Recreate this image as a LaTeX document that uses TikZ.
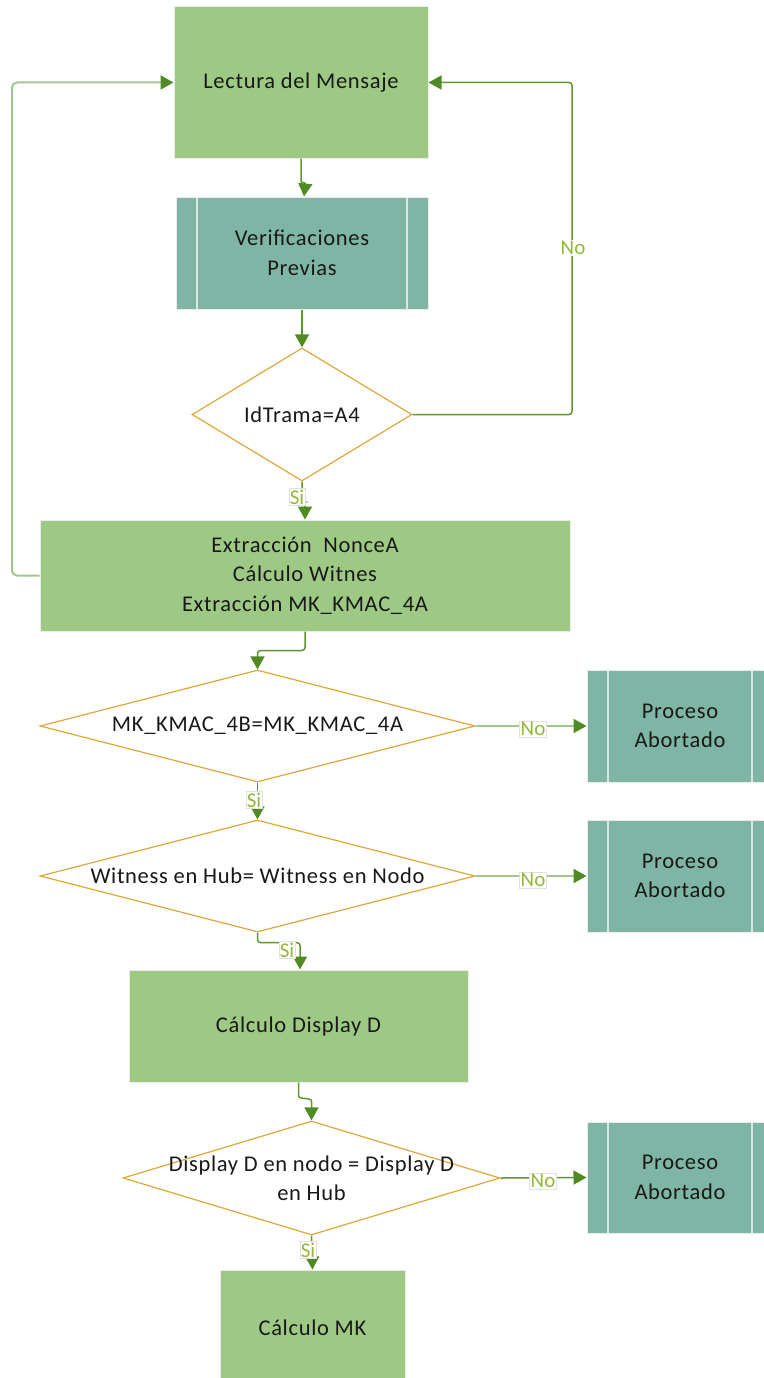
\documentclass[tikz,border=0pt]{standalone}
\usepackage{fontspec}
\setmainfont{Carlito}
\newfontfamily\diagfont{Carlito}[LetterSpace=3]
\usetikzlibrary{shapes.geometric,arrows.meta}

\definecolor{procgreen}{HTML}{9DC985}
\definecolor{subteal}{HTML}{7FB5A5}
\definecolor{decgold}{HTML}{DDA83A}
\definecolor{linkdark}{HTML}{5E9632}
\definecolor{linklight}{HTML}{A3C690}
\definecolor{tipgreen}{HTML}{4F8A23}
\definecolor{labgreen}{HTML}{93B83C}

\tikzset{
  box/.style={rectangle, inner sep=0pt, draw=black!8, line width=1pt,
    font=\diagfont\fontsize{22.5}{29.5}\selectfont, align=center, text=black!90},
  procbox/.style={box, fill=procgreen},
  subbox/.style={box, fill=subteal,
    path picture={
      \draw[white!70!subteal, line width=1.2pt]
        ([xshift=21pt]path picture bounding box.north west) --
        ([xshift=21pt]path picture bounding box.south west)
        ([xshift=-21pt]path picture bounding box.north east) --
        ([xshift=-21pt]path picture bounding box.south east);
    }},
  decision/.style={diamond, draw=decgold, line width=1.2pt, fill=white,
    inner sep=0pt},
  dectext/.style={font=\diagfont\fontsize{22.5}{29}\selectfont, align=center, text=black!90},
  tip/.style={-{Triangle[length=13pt,width=14pt,fill=tipgreen,color=tipgreen]}},
  darklink/.style={draw=linkdark, line width=1.5pt, tip, rounded corners=3pt},
  lightlink/.style={draw=linklight, line width=2pt, tip, rounded corners=5pt},
  answer/.style={font=\fontsize{21}{24}\selectfont, text=labgreen, fill=white,
    draw=black!12, line width=0.5pt, inner sep=1pt}
}

\begin{document}
\begin{tikzpicture}[x=1pt, y=-1pt]
\useasboundingbox (0,0) rectangle (763,1378);

% process steps
\node[procbox, minimum width=254pt, minimum height=151pt] (lect) at (301,82.5) {Lectura del Mensaje};
\node[subbox, minimum width=252pt, minimum height=112pt] (verif) at (302,253) {Verificaciones\\Previas};
\node[decision, minimum width=220pt, minimum height=133pt] (d1) at (302,414.5) {};
\node[dectext] (t1) at (d1) {IdTrama=A4};
\node[procbox, minimum width=530pt, minimum height=111pt] (ext) at (305,575.5)
  {Extracción\ \ NonceA\\Cálculo Witnes\\Extracción MK\_KMAC\_4A};

\node[decision, minimum width=435pt, minimum height=112pt] (d2) at (257.5,726) {};
\node[dectext] (t2) at (d2) {MK\_KMAC\_4B=MK\_KMAC\_4A};
\node[subbox, minimum width=186pt, minimum height=112pt] (ab1) at (680,726) {Proceso\\Abortado};

\node[decision, minimum width=435pt, minimum height=112pt] (d3) at (257.5,876) {};
\node[dectext] (t3) at (d3) {Witness en Hub= Witness en Nodo};
\node[subbox, minimum width=186pt, minimum height=112pt] (ab2) at (680,876) {Proceso\\Abortado};

\node[procbox, minimum width=339pt, minimum height=112pt] (calcD) at (298.5,1026) {Cálculo Display D};

\node[decision, minimum width=377pt, minimum height=114pt] (d4) at (311.5,1178) {};
\node[dectext] (t4) at (d4) {Display D en nodo = Display D\\en Hub};
\node[subbox, minimum width=186pt, minimum height=111pt] (ab3) at (680,1177.5) {Proceso\\Abortado};

\node[procbox, minimum width=185pt, minimum height=116pt] (calcMK) at (312.5,1328) {Cálculo MK};

% main flow
\draw[darklink] (lect.south) -- ++(0,20) .. controls ++(0,4) and ++(0,-4) .. ++(4,8) -- ([xshift=2pt]verif.north);
\draw[darklink] (verif.south) -- (d1.north);
\draw[darklink] (d1.south) -- ++(0,20) -| (ext.north);
\node[answer] (si1) at (297,497) {Si};
\draw[darklink] (ext.south) -- ++(0,19) -| (d2.north);
\draw[darklink] (d2.south) -- (d3.north);
\node[answer] (si2) at (254,800) {Si};
\draw[darklink] (d3.south) -- ++(0,10) -| ([xshift=1.5pt]calcD.north);
\node[answer] (si3) at (287,950) {Si};
\draw[darklink] (calcD.south) -- ++(0,10) .. controls ++(0,8) and ++(0,-8) .. ++(13,12) -| (d4.north);
\draw[darklink] (d4.south) -- (calcMK.north);
\node[answer] (si4) at (308,1250) {Si};

% rejections
\draw[lightlink] (d2.east) -- (ab1.west);
\node[answer] (no1) at (533,729) {No};
\draw[lightlink] (d3.east) -- (ab2.west);
\node[answer] (no2) at (533,880) {No};
\draw[darklink] (d4.east) -- (ab3.west);
\node[answer] (no3) at (543,1181) {No};

% loops back to reading the message
\draw[darklink] (d1.east) -- (572,414.5) -- (572,82.5) -- (lect.east);
\node[answer, draw=none] (no0) at (573,248) {No};
\draw[lightlink] (ext.west) -- (12,575.5) -- (12,82.5) -- (lect.west);
\end{tikzpicture}
\end{document}
